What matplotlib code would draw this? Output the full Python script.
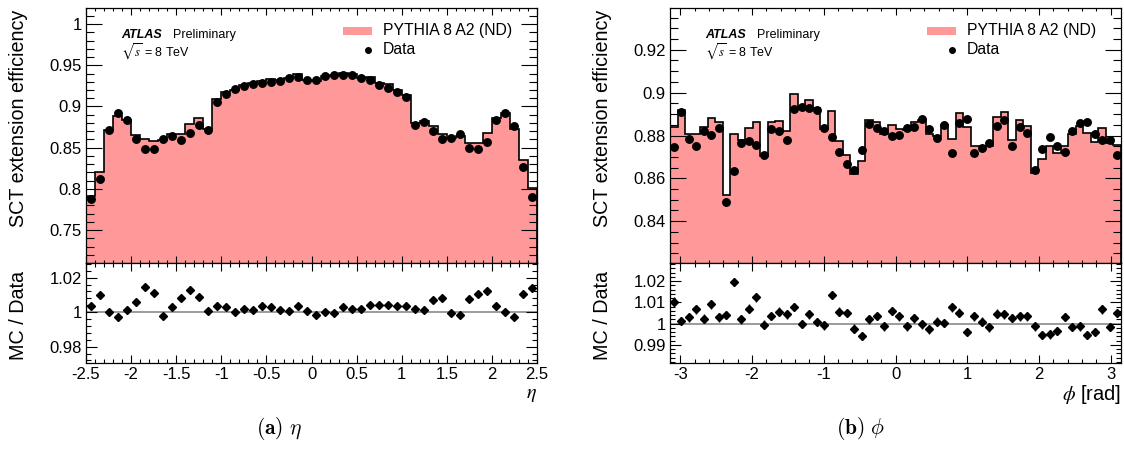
import matplotlib
matplotlib.use("Agg")
import matplotlib.pyplot as plt
import numpy as np
from matplotlib.ticker import MultipleLocator, FuncFormatter
from matplotlib.patches import Rectangle
from matplotlib.lines import Line2D

plt.rcParams['font.family'] = ['Liberation Sans', 'DejaVu Sans']
plt.rcParams['mathtext.fontset'] = 'stix'

W, H = 1124, 450
PINK = '#FF9999'

# ---------------- data: eta ----------------
eta_range = (-2.5, 2.5)
eta_nbins = 50
eta_mc = [0.791, 0.820, 0.872, 0.889, 0.884, 0.865, 0.860, 0.858, 0.859, 0.866,
          0.866, 0.879, 0.886, 0.873, 0.909, 0.918, 0.920, 0.926, 0.928, 0.931,
          0.933, 0.932, 0.934, 0.939, 0.932, 0.931, 0.937, 0.938, 0.941, 0.939,
          0.935, 0.936, 0.929, 0.927, 0.920, 0.914, 0.880, 0.882, 0.876, 0.867,
          0.862, 0.864, 0.856, 0.856, 0.868, 0.886, 0.892, 0.873, 0.835, 0.801]
eta_data = [0.788, 0.812, 0.872, 0.892, 0.883, 0.860, 0.848, 0.848, 0.861, 0.864,
            0.859, 0.868, 0.878, 0.872, 0.906, 0.915, 0.921, 0.925, 0.927, 0.928,
            0.930, 0.931, 0.934, 0.936, 0.932, 0.932, 0.937, 0.938, 0.938, 0.938,
            0.934, 0.932, 0.926, 0.923, 0.917, 0.911, 0.878, 0.881, 0.870, 0.860,
            0.862, 0.866, 0.850, 0.848, 0.857, 0.883, 0.892, 0.876, 0.826, 0.790]
eta_ratio = [1.0038, 1.0098, 1.0002, 0.9973, 1.0013, 1.0060, 1.0146, 1.0113, 0.9979, 1.0031,
             1.0083, 1.0127, 1.0085, 1.0008, 1.0033, 1.0029, 0.9998, 1.0017, 1.0010, 1.0035,
             1.0027, 1.0013, 1.0008, 1.0033, 1.0008, 0.9985, 0.9998, 0.9994, 1.0027, 1.0017,
             1.0017, 1.0044, 1.0040, 1.0040, 1.0033, 1.0033, 1.0019, 1.0015, 1.0073, 1.0081,
             0.9994, 0.9981, 1.0075, 1.0104, 1.0125, 1.0033, 1.0002, 0.9969, 1.0106, 1.0140]
eta_ratio_err = 0.0008

# ---------------- data: phi ----------------
phi_range = (-np.pi, np.pi)
phi_nbins = 60
phi_mc = [0.8838, 0.8920, 0.8809, 0.8809, 0.8841, 0.8880, 0.8863, 0.8522, 0.8805, 0.8781,
          0.8835, 0.8864, 0.8704, 0.8861, 0.8869, 0.8820, 0.8992, 0.8931, 0.8966, 0.8927,
          0.8829, 0.8913, 0.8772, 0.8711, 0.8620, 0.8679, 0.8873, 0.8864, 0.8809, 0.8849,
          0.8830, 0.8825, 0.8863, 0.8872, 0.8807, 0.8798, 0.8850, 0.8785, 0.8906, 0.8840,
          0.8749, 0.8750, 0.8751, 0.8886, 0.8911, 0.8777, 0.8871, 0.8843, 0.8627, 0.8692,
          0.8749, 0.8720, 0.8751, 0.8809, 0.8844, 0.8813, 0.8770, 0.8837, 0.8764, 0.8754]
phi_data = [0.8748, 0.8909, 0.8784, 0.8750, 0.8820, 0.8800, 0.8837, 0.8488, 0.8636, 0.8763,
            0.8773, 0.8756, 0.8708, 0.8828, 0.8819, 0.8781, 0.8922, 0.8933, 0.8927, 0.8920,
            0.8836, 0.8794, 0.8723, 0.8667, 0.8641, 0.8731, 0.8855, 0.8833, 0.8820, 0.8797,
            0.8800, 0.8836, 0.8841, 0.8875, 0.8831, 0.8789, 0.8848, 0.8719, 0.8860, 0.8875,
            0.8719, 0.8741, 0.8766, 0.8844, 0.8872, 0.8753, 0.8841, 0.8813, 0.8638, 0.8739,
            0.8794, 0.8750, 0.8723, 0.8822, 0.8856, 0.8861, 0.8805, 0.8778, 0.8777, 0.8710]
phi_ratio = [1.0103, 1.0012, 1.0029, 1.0067, 1.0024, 1.0091, 1.0029, 1.0040, 1.0196, 1.0020,
             1.0071, 1.0123, 0.9995, 1.0037, 1.0057, 1.0044, 1.0078, 0.9998, 1.0044, 1.0008,
             0.9992, 1.0135, 1.0056, 1.0051, 0.9976, 0.9941, 1.0020, 1.0035, 0.9987, 1.0059,
             1.0034, 0.9987, 1.0025, 0.9997, 0.9973, 1.0010, 1.0002, 1.0076, 1.0052, 0.9961,
             1.0034, 1.0010, 0.9983, 1.0047, 1.0044, 1.0027, 1.0034, 1.0034, 0.9987, 0.9946,
             0.9949, 0.9966, 1.0032, 0.9985, 0.9987, 0.9946, 0.9960, 1.0067, 0.9985, 1.0051]
phi_ratio_err = 0.0020

legend_labels = ['PYTHIA 8 A2 (ND)', 'Data']

fig = plt.figure(figsize=(W / 100, H / 100), dpi=100)


def fmt(v, p):
    s = '%g' % round(v, 5)
    return s


def fx(x):
    return x / W


def fy(y):
    return 1 - y / H


def panel(x0, rng, nb, mc, data, ratio, rerr, mylim, mmaj, mmin, rylim, rmaj, rmin,
          xmaj, xmin, xticks, xlabel, caption, capx):
    edges = np.linspace(rng[0], rng[1], nb + 1)
    centers = 0.5 * (edges[1:] + edges[:-1])
    axm = fig.add_axes([fx(x0), fy(263), 451 / W, 255 / H])
    axr = fig.add_axes([fx(x0), fy(363), 451 / W, 100 / H])

    axm.stairs(mc, edges, fill=True, color=PINK, baseline=0, zorder=1)
    axm.stairs(mc, edges, color='k', lw=1.2, baseline=0, zorder=2)
    axm.plot(centers, data, 'o', color='k', ms=5.4, zorder=3, clip_on=False)
    axm.set_xlim(rng)
    axm.set_ylim(mylim)
    axm.yaxis.set_major_locator(MultipleLocator(mmaj))
    axm.yaxis.set_minor_locator(MultipleLocator(mmin))
    axm.yaxis.set_major_formatter(FuncFormatter(fmt))
    axm.xaxis.set_major_locator(MultipleLocator(xmaj))
    axm.xaxis.set_minor_locator(MultipleLocator(xmin))
    axm.tick_params(which='both', direction='in', top=True, right=True,
                    labelbottom=False, width=0.8)
    axm.tick_params(axis='y', which='major', length=11.5, labelsize=12, pad=3)
    axm.tick_params(axis='y', which='minor', length=5.8)
    axm.tick_params(axis='x', which='major', length=4.8)
    axm.tick_params(axis='x', which='minor', length=2.4)

    axr.axhline(1.0, color='#808080', lw=1.1, zorder=1)
    axr.errorbar(centers, ratio, yerr=rerr, fmt='D', ms=3.8, color='k',
                 elinewidth=1.0, capsize=0, zorder=3)
    axr.set_xlim(rng)
    axr.set_ylim(rylim)
    axr.yaxis.set_major_locator(MultipleLocator(rmaj))
    axr.yaxis.set_minor_locator(MultipleLocator(rmin))
    axr.yaxis.set_major_formatter(FuncFormatter(fmt))
    axr.set_xticks(xticks)
    axr.xaxis.set_major_formatter(FuncFormatter(fmt))
    axr.xaxis.set_minor_locator(MultipleLocator(xmin))
    axr.tick_params(which='both', direction='in', top=True, right=True, width=0.8)
    axr.tick_params(axis='y', which='major', length=8, labelsize=12, pad=3)
    axr.tick_params(axis='y', which='minor', length=3.6)
    axr.tick_params(axis='x', which='major', length=5.5, labelsize=12, pad=3)
    axr.tick_params(axis='x', which='minor', length=2.6)

    for ax in (axm, axr):
        for s in ax.spines.values():
            s.set_linewidth(0.9)

    # axis titles
    fig.text(fx(x0 - 67.5), fy(10), 'SCT extension efficiency', rotation=90,
             ha='center', va='top', fontsize=14.2)
    fig.text(fx(x0 - 67), fy(271), 'MC / Data', rotation=90,
             ha='center', va='top', fontsize=14.2)
    fig.text(fx(x0 + 451), fy(394), xlabel, ha='right', va='center', fontsize=14.5)

    # ATLAS label
    fig.text(fx(x0 + 35), fy(35), 'ATLAS', fontsize=9, fontweight='bold',
             fontstyle='italic', ha='left', va='center')
    fig.text(fx(x0 + 87), fy(35), 'Preliminary', fontsize=9, ha='left', va='center')
    fig.text(fx(x0 + 35), fy(52), r'$\sqrt{s}$ = 8 TeV', fontsize=9, ha='left',
             va='center')

    # legend
    fig.add_artist(Rectangle((fx(x0 + 257), fy(35)), 29 / W, 8 / H,
                             transform=fig.transFigure, facecolor=PINK,
                             edgecolor='none'))
    fig.text(fx(x0 + 297), fy(31), legend_labels[0], fontsize=11.3, ha='left',
             va='center')
    fig.add_artist(Line2D([fx(x0 + 281.7)], [fy(50)], marker='o', ms=4,
                          color='k', transform=fig.transFigure))
    fig.text(fx(x0 + 297), fy(50), legend_labels[1], fontsize=11.3, ha='left',
             va='center')

    # caption
    fig.text(fx(capx), fy(428), caption, math_fontfamily='cm', fontsize=15.5,
             ha='center', va='center')


panel(86, eta_range, eta_nbins, eta_mc, eta_data, eta_ratio, eta_ratio_err,
      (0.71, 1.0195), 0.05, 0.01, (0.9705, 1.0285), 0.02, 0.004,
      0.5, 0.1, [-2.5, -2, -1.5, -1, -0.5, 0, 0.5, 1, 1.5, 2, 2.5],
      r'$\eta$', r'$\mathbf{(a)}\ \eta$', 279)

panel(670, phi_range, phi_nbins, phi_mc, phi_data, phi_ratio, phi_ratio_err,
      (0.8205, 0.9395), 0.02, 0.005, (0.9815, 1.0285), 0.01, 0.002,
      1, 0.2, [-3, -2, -1, 0, 1, 2, 3],
      r'$\phi$ [rad]', r'$\mathbf{(b)}\ \phi$', 861)

fig.savefig('out.png', dpi=100)
